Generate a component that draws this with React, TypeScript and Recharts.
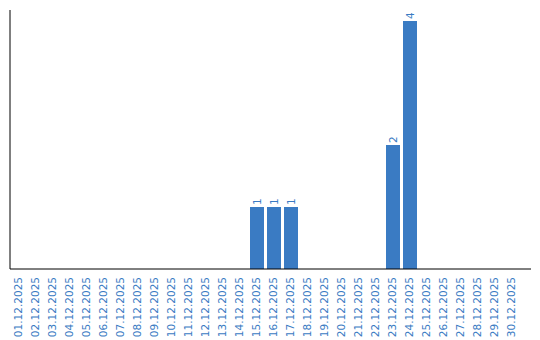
import { BarChart, Bar, XAxis, YAxis, LabelList } from 'recharts';

const days = [
  '01.12.2025', '02.12.2025', '03.12.2025', '04.12.2025', '05.12.2025',
  '06.12.2025', '07.12.2025', '08.12.2025', '09.12.2025', '10.12.2025',
  '11.12.2025', '12.12.2025', '13.12.2025', '14.12.2025', '15.12.2025',
  '16.12.2025', '17.12.2025', '18.12.2025', '19.12.2025', '20.12.2025',
  '21.12.2025', '22.12.2025', '23.12.2025', '24.12.2025', '25.12.2025',
  '26.12.2025', '27.12.2025', '28.12.2025', '29.12.2025', '30.12.2025',
];

const counts = [
  0, 0, 0, 0, 0, 0, 0, 0, 0, 0,
  0, 0, 0, 0, 1, 1, 1, 0, 0, 0,
  0, 0, 2, 4, 0, 0, 0, 0, 0, 0,
];

const data = days.map((day, i) => ({ day, count: counts[i] }));

const BLUE = '#3a7bc3';

const DayTick = (props: any) => {
  const { x, y, payload } = props;
  return (
    <text
      x={x}
      y={y}
      dy="0.35em"
      textAnchor="end"
      fill={BLUE}
      fontSize={10.5}
      fontFamily="'DejaVu Sans', sans-serif"
      transform={`rotate(-90, ${x}, ${y})`}
    >
      {payload.value}
    </text>
  );
};

const CountLabel = (props: any) => {
  const { x, y, width, value } = props;
  if (!value) return null;
  const cx = x + width / 2;
  const cy = y - 2;
  return (
    <text
      x={cx}
      y={cy}
      dy="0.35em"
      textAnchor="start"
      fill={BLUE}
      fontSize={10.5}
      fontFamily="'DejaVu Sans', sans-serif"
      transform={`rotate(-90, ${cx}, ${cy})`}
    >
      {value}
    </text>
  );
};

export default function App() {
  return (
    <div style={{ position: 'absolute', left: 0, top: 0, background: '#fff' }}>
      <BarChart
        width={540}
        height={340}
        data={data}
        margin={{ top: 10, right: 9, left: 9, bottom: 0 }}
        barSize={14}
      >
        <XAxis
          dataKey="day"
          interval={0}
          height={71}
          tickLine={false}
          axisLine={{ stroke: '#000' }}
          tick={<DayTick />}
          padding={{ left: 0, right: 11 }}
        />
        <YAxis
          width={1}
          tick={false}
          tickLine={false}
          axisLine={{ stroke: '#000' }}
          domain={[0, 4]}
          padding={{ top: 11, bottom: 0 }}
        />
        <Bar dataKey="count" fill={BLUE} isAnimationActive={false}>
          <LabelList dataKey="count" content={<CountLabel />} />
        </Bar>
      </BarChart>
    </div>
  );
}
